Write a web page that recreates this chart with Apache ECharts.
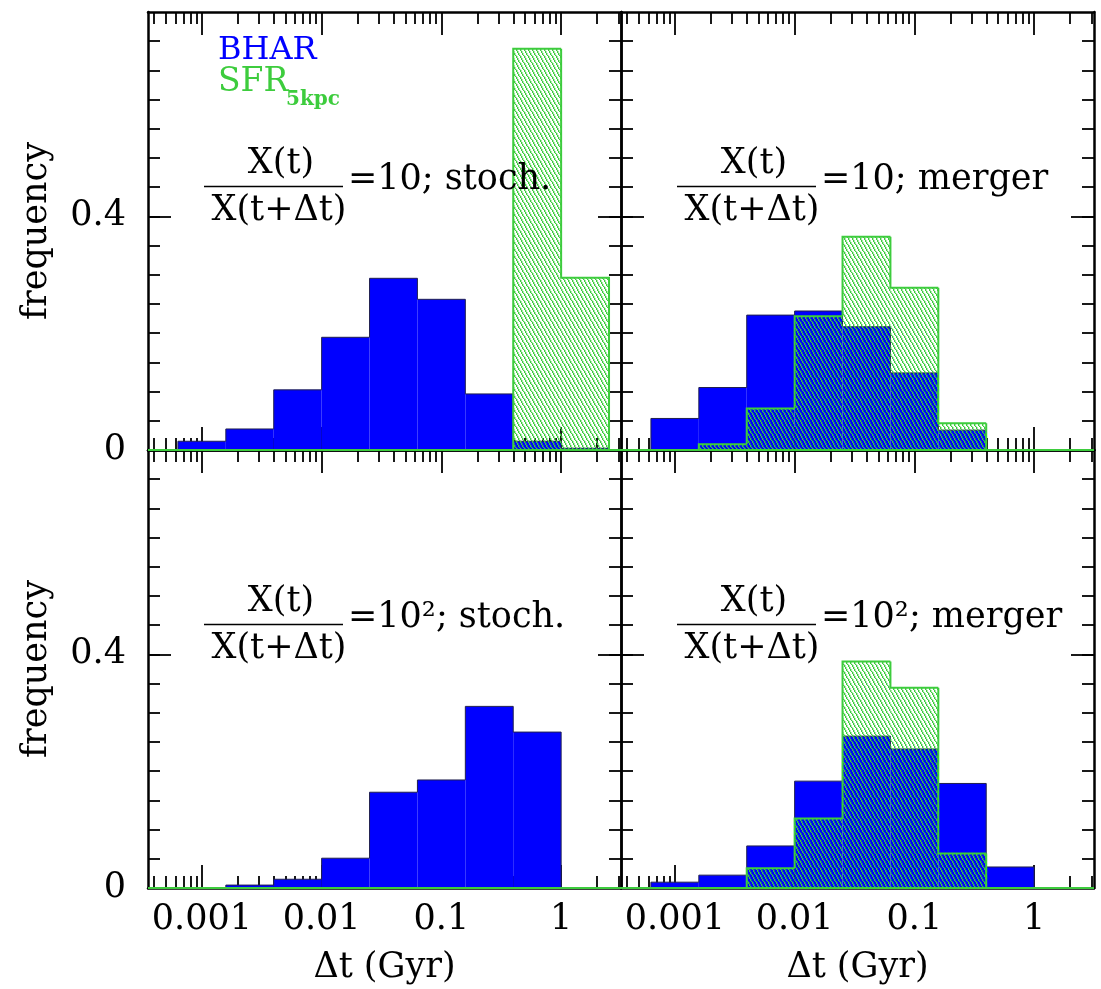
<!DOCTYPE html>
<html><head><meta charset="utf-8">
<script src="https://cdn.jsdelivr.net/npm/echarts@6/dist/echarts.min.js"></script>
<style>html,body{margin:0;padding:0;background:#fff}#c{width:1101px;height:989px}</style>
</head><body><div id="c"></div>
<script>
// ---------------- data ----------------
const binEdgesLog = [-3.2, -2.8, -2.4, -2.0, -1.6, -1.2, -0.8, -0.4, 0.0, 0.4]; // log10(Δt/Gyr)
const xTickValues = [0.001, 0.01, 0.1, 1];
const xTickLabels = ['0.001', '0.01', '0.1', '1'];
const yTickValues = [0, 0.4];
const yTickLabels = ['0', '0.4'];

const bharStoch10   = [0.015, 0.036, 0.103, 0.193, 0.294, 0.258, 0.096, 0.015, 0.003];
const sfrStoch10    = [0, 0, 0, 0, 0, 0, 0, 0.687, 0.295];
const bharMerger10  = [0.054, 0.107, 0.231, 0.238, 0.211, 0.132, 0.034, 0, 0];
const sfrMerger10   = [0, 0.010, 0.071, 0.229, 0.365, 0.278, 0.046, 0, 0];
const bharStoch100  = [0, 0.005, 0.015, 0.051, 0.164, 0.185, 0.311, 0.267, 0];
const sfrStoch100   = [0, 0, 0, 0, 0, 0, 0, 0, 0];
const bharMerger100 = [0.010, 0.022, 0.072, 0.183, 0.260, 0.238, 0.179, 0.036, 0];
const sfrMerger100  = [0, 0, 0.034, 0.119, 0.388, 0.343, 0.059, 0, 0];

const panelRatios = ['=10; stoch.', '=10; merger', '=10²; stoch.', '=10²; merger'];
const numeratorText = 'X(t)';
const denominatorText = 'X(t+Δt)';
const legendBhar = 'BHAR';
const legendSfr = 'SFR';
const legendSfrSub = '5kpc';
const xAxisTitle = 'Δt (Gyr)';
const yAxisTitle = 'frequency';

// ---------------- styling / layout ----------------
const FONT = 'DejaVu Serif';
const FS = 35;
const BLUE = '#0000ff';
const GREEN = '#3dcc3d';
const X_MIN = -3.45, X_MAX = 0.5;
const Y_MIN = 0, Y_MAX = 0.75;
const panels = [
  { left: 148, top: 12, bhar: bharStoch10, sfr: sfrStoch10, xl: false, yl: true },
  { left: 621, top: 12, bhar: bharMerger10, sfr: sfrMerger10, xl: false, yl: false },
  { left: 148, top: 450, bhar: bharStoch100, sfr: sfrStoch100, xl: true, yl: true },
  { left: 621, top: 450, bhar: bharMerger100, sfr: sfrMerger100, xl: true, yl: false }
];
const PW = 473, PH = 438;

const majorX = xTickValues.map(v => Math.log10(v));
const minorX = [];
for (let d = -4; d <= 0; d++) for (let m = 2; m <= 9; m++) {
  const lv = d + Math.log10(m);
  if (lv > X_MIN && lv < X_MAX) minorX.push(lv);
}
const minorY = [];
for (let k = 1; k * 0.05 < Y_MAX - 1e-9; k++) minorY.push(+(k * 0.05).toFixed(2));

function makeHatch(r, g, b) {
  const w = 4, h = 7;
  const c = document.createElement('canvas');
  c.width = w; c.height = h;
  const ctx = c.getContext('2d');
  const img = ctx.createImageData(w, h);
  for (let y = 0; y < h; y++) {
    const x0 = Math.floor(y * w / h);
    const alphas = [255, 110];
    for (let k = 0; k < 2; k++) {
      const x = (x0 + k) % w;
      const o = (y * w + x) * 4;
      img.data[o] = r; img.data[o + 1] = g; img.data[o + 2] = b; img.data[o + 3] = alphas[k];
    }
  }
  ctx.putImageData(img, 0, 0);
  return c;
}
const hatch = { image: makeHatch(61, 204, 61), repeat: 'repeat' };

function histRenderer(values, fill, stroke, lineWidth) {
  return function (params, api) {
    const i = params.dataIndex;
    const x0 = api.value(0), x1 = api.value(1), v = api.value(2);
    const prev = i > 0 ? values[i - 1] : 0;
    const pTL = api.coord([x0, v]);
    const pBR = api.coord([x1, 0]);
    const pPrev = api.coord([x0, prev]);
    const pTR = api.coord([x1, v]);
    const pts = [pPrev, pTL, pTR];
    if (i === values.length - 1) pts.push(pBR);
    return {
      type: 'group',
      children: [
        { type: 'rect', shape: { x: pTL[0], y: pTL[1], width: pBR[0] - pTL[0], height: pBR[1] - pTL[1] },
          style: { fill: fill, stroke: null } },
        { type: 'polyline', shape: { points: pts }, style: { fill: null, stroke: stroke, lineWidth: lineWidth } }
      ]
    };
  };
}
function histData(values) {
  return values.map((v, i) => [binEdgesLog[i], binEdgesLog[i + 1], v]);
}

const grid = [], xAxis = [], yAxis = [], series = [];
const lineCol = '#000';
panels.forEach((p, g) => {
  grid.push({ left: p.left, top: p.top, width: PW, height: PH, containLabel: false });
  const xBase = { gridIndex: g, type: 'value', min: X_MIN, max: X_MAX, splitLine: { show: false }, axisPointer: { show: false } };
  const yBase = { gridIndex: g, type: 'value', min: Y_MIN, max: Y_MAX, splitLine: { show: false }, axisPointer: { show: false } };
  const tickStyle = { color: lineCol, width: 1.8 };
  xAxis.push(Object.assign({}, xBase, {
    position: 'bottom',
    axisLine: { show: true, onZero: false, lineStyle: { color: lineCol, width: 2.5 } },
    axisTick: { show: true, inside: true, length: 23, customValues: majorX, lineStyle: tickStyle },
    axisLabel: { show: p.xl, customValues: majorX, margin: 14, color: '#000', fontFamily: FONT, fontSize: FS,
      formatter: (v) => { const i = majorX.findIndex(m => Math.abs(m - v) < 1e-6); return i >= 0 ? xTickLabels[i] : ''; } },
    name: p.xl ? xAxisTitle : '', nameLocation: 'middle', nameGap: 62,
    nameTextStyle: { color: '#000', fontFamily: FONT, fontSize: FS }
  }));
  xAxis.push(Object.assign({}, xBase, {
    position: 'bottom', axisLine: { show: false, onZero: false },
    axisTick: { show: true, inside: true, length: 12, customValues: minorX, lineStyle: tickStyle },
    axisLabel: { show: false }
  }));
  xAxis.push(Object.assign({}, xBase, {
    position: 'top',
    axisLine: { show: true, onZero: false, lineStyle: { color: lineCol, width: 2.5 } },
    axisTick: { show: true, inside: true, length: 23, customValues: majorX, lineStyle: tickStyle },
    axisLabel: { show: false }
  }));
  xAxis.push(Object.assign({}, xBase, {
    position: 'top', axisLine: { show: false, onZero: false },
    axisTick: { show: true, inside: true, length: 12, customValues: minorX, lineStyle: tickStyle },
    axisLabel: { show: false }
  }));
  yAxis.push(Object.assign({}, yBase, {
    position: 'left',
    axisLine: { show: true, onZero: false, lineStyle: { color: lineCol, width: 2.5 } },
    axisTick: { show: true, inside: true, length: 23, customValues: yTickValues, lineStyle: tickStyle },
    axisLabel: { show: p.yl, customValues: yTickValues, margin: 22, color: '#000', fontFamily: FONT, fontSize: FS,
      formatter: (v) => { const i = yTickValues.findIndex(m => Math.abs(m - v) < 1e-6); return i >= 0 ? yTickLabels[i] : ''; } },
    name: p.yl ? yAxisTitle : '', nameLocation: 'middle', nameRotate: 90, nameGap: 94,
    nameTextStyle: { color: '#000', fontFamily: FONT, fontSize: FS }
  }));
  yAxis.push(Object.assign({}, yBase, {
    position: 'left', axisLine: { show: false, onZero: false },
    axisTick: { show: true, inside: true, length: 12, customValues: minorY, lineStyle: tickStyle },
    axisLabel: { show: false }
  }));
  yAxis.push(Object.assign({}, yBase, {
    position: 'right',
    axisLine: { show: true, onZero: false, lineStyle: { color: lineCol, width: 2.5 } },
    axisTick: { show: true, inside: true, length: 23, customValues: yTickValues, lineStyle: tickStyle },
    axisLabel: { show: false }
  }));
  yAxis.push(Object.assign({}, yBase, {
    position: 'right', axisLine: { show: false, onZero: false },
    axisTick: { show: true, inside: true, length: 12, customValues: minorY, lineStyle: tickStyle },
    axisLabel: { show: false }
  }));
  const xi = g * 4, yi = g * 4;
  series.push({
    type: 'custom', name: 'BHAR', xAxisIndex: xi, yAxisIndex: yi, z: 3, silent: true,
    renderItem: histRenderer(p.bhar, BLUE, '#202050', 1),
    encode: { x: [0, 1], y: 2 }, data: histData(p.bhar)
  });
  series.push({
    type: 'custom', name: 'SFR', xAxisIndex: xi, yAxisIndex: yi, z: 4, silent: true,
    renderItem: histRenderer(p.sfr, hatch, GREEN, 2),
    encode: { x: [0, 1], y: 2 }, data: histData(p.sfr)
  });
  series.push({
    type: 'line', xAxisIndex: xi, yAxisIndex: yi, z: 5, silent: true, symbol: 'none',
    lineStyle: { color: GREEN, width: 2 }, data: [[X_MIN, 0], [X_MAX, 0]]
  });
});

const graphic = [];
const txt = (x, y, text, opts) => Object.assign({
  type: 'text', x: x, y: y, z: 100,
  style: Object.assign({ text: text, fontFamily: FONT, fontSize: FS, fill: '#000', textAlign: 'center', textVerticalAlign: 'middle' }, opts || {})
});
panels.forEach((p, g) => {
  const dx = p.left - 148, dy = p.top - 12;
  graphic.push(txt(281 + dx, 164 + dy, numeratorText));
  graphic.push({ type: 'line', z: 100, shape: { x1: 204 + dx, y1: 186.5 + dy, x2: 343 + dx, y2: 186.5 + dy },
    style: { stroke: '#000', lineWidth: 1.6 } });
  graphic.push(txt(279 + dx, 211 + dy, denominatorText));
  graphic.push(txt(348 + dx, 180 + dy, panelRatios[g], { textAlign: 'left' }));
});
graphic.push(txt(218, 51, legendBhar, { textAlign: 'left', fill: BLUE, fontSize: 32 }));
graphic.push(txt(218, 82, legendSfr, { textAlign: 'left', fill: GREEN, fontSize: 33 }));
graphic.push(txt(286, 100, legendSfrSub, { textAlign: 'left', fill: GREEN, fontSize: 20, fontWeight: 'bold' }));

const chart = echarts.init(document.getElementById('c'), null, { renderer: 'canvas' });
chart.setOption({
  animation: false,
  backgroundColor: '#fff',
  grid: grid, xAxis: xAxis, yAxis: yAxis, series: series, graphic: graphic
});
</script>
</body></html>
